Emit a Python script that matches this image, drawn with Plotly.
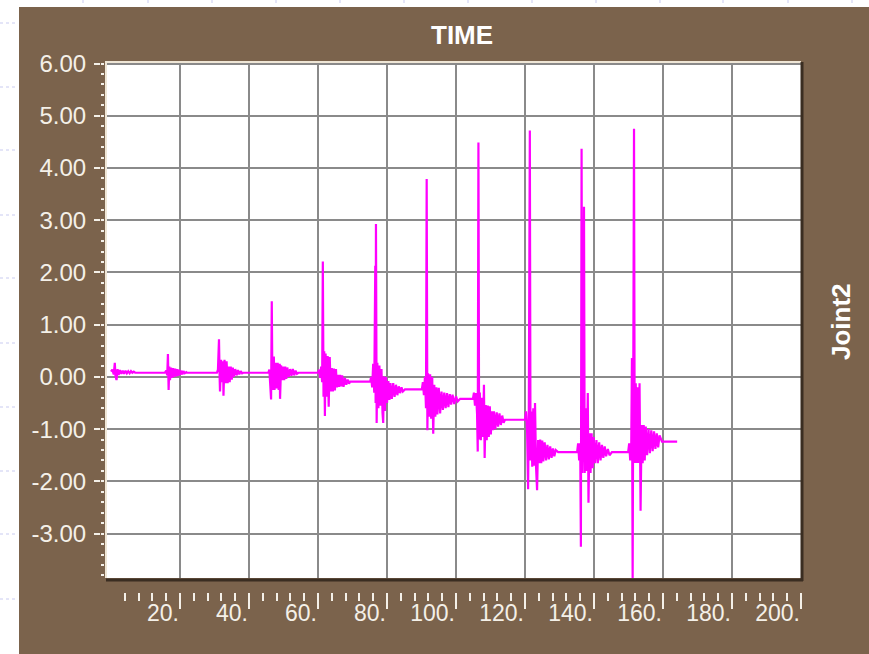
import plotly.graph_objects as go

# ---------------- data ----------------
time_s = [
    0.0, 0.4, 0.8, 1.1, 1.3, 1.6, 1.9, 2.2, 2.6, 3.0, 3.4, 3.8, 4.2, 4.6, 5.0, 5.4, 5.8, 6.2, 6.6, 7.0,
    15.6, 16.0, 16.3, 16.5, 16.7, 16.9, 17.1, 17.4, 17.7, 18.0, 18.3, 18.6, 18.9, 19.2, 19.5, 19.8, 20.1, 20.4, 20.7, 21.0, 21.4, 21.8, 22.0,
    30.7, 31.0, 31.3, 31.5, 31.6, 31.9, 32.2, 32.5, 32.6, 32.9, 33.2, 33.5, 33.8, 34.1, 34.4, 34.7, 35.0, 35.3, 35.6, 36.0, 36.4, 36.8, 37.2, 37.6, 38.0, 38.3,
    45.6, 45.9, 46.2, 46.4, 46.6, 46.8, 47.0, 47.2, 47.4, 47.7, 48.0, 48.3, 48.6, 48.9, 49.0, 49.3, 49.6, 49.9, 50.2, 50.5, 50.8, 51.1, 51.5, 51.9, 52.3, 52.7, 53.1, 53.5, 53.9, 54.3,
    60.0, 60.3, 60.6, 60.9, 61.2, 61.4, 61.6, 61.8, 62.0, 62.2, 62.5, 62.8, 63.1, 63.4, 63.7, 64.0, 64.3, 64.6, 64.9, 65.2, 65.5, 65.8, 66.1, 66.4, 66.7, 67.0, 67.4, 67.8, 68.2, 68.6, 69.0, 69.3,
    75.1, 75.4, 75.7, 76.0, 76.3, 76.6, 76.7, 76.8, 77.0, 77.2, 77.5, 77.8, 78.1, 78.4, 78.7, 78.9, 79.1, 79.4, 79.7, 80.0, 80.4, 80.7, 81.0, 81.4, 81.8, 82.2, 82.6, 83.0, 83.4, 83.8, 84.2, 84.6, 85.2,
    90.1, 90.4, 90.7, 91.0, 91.3, 91.5, 91.7, 91.9, 92.2, 92.5, 92.8, 93.1, 93.4, 93.7, 94.0, 94.3, 94.6, 95.0, 95.4, 95.8, 96.2, 96.6, 97.0, 97.4, 97.8, 98.2, 98.6, 99.0, 99.5, 100.0, 100.5, 101.2,
    104.9, 105.2, 105.5, 105.8, 106.1, 106.3, 106.5, 106.7, 106.9, 107.2, 107.5, 107.8, 108.1, 108.3, 108.6, 108.9, 109.2, 109.5, 109.8, 110.1, 110.4, 110.7, 111.0, 111.4, 111.8, 112.2, 112.6, 113.0, 113.4, 113.8, 114.2,
    120.0, 120.3, 120.6, 120.9, 121.1, 121.4, 121.6, 121.8, 122.1, 122.4, 122.7, 122.9, 123.2, 123.5, 123.8, 124.1, 124.4, 124.7, 125.0, 125.3, 125.7, 126.1, 126.5, 126.9, 127.3, 127.7, 128.1, 128.5, 128.9, 129.6,
    135.1, 135.4, 135.7, 136.0, 136.2, 136.4, 136.6, 136.9, 137.1, 137.3, 137.6, 137.9, 138.2, 138.4, 138.7, 139.0, 139.3, 139.6, 139.9, 140.3, 140.7, 141.1, 141.5, 141.9, 142.3, 142.7, 143.1, 143.5, 144.0, 144.5, 145.2,
    149.9, 150.2, 150.5, 150.8, 151.0, 151.2, 151.4, 151.6, 151.8, 152.1, 152.4, 152.7, 153.0, 153.2, 153.5, 153.8, 154.1, 154.4, 154.7, 155.0, 155.4, 155.8, 156.2, 156.6, 157.0, 157.4, 157.8, 158.2, 158.6, 159.0, 159.7, 164.1,
]

joint2 = [
    0.10, 0.14, 0.05, 0.27, 0.02, -0.06, 0.15, 0.04, 0.13, 0.06, 0.12, 0.06, 0.12, 0.07, 0.11, 0.07, 0.11, 0.08, 0.10, 0.08,
    0.08, 0.12, 0.03, 0.44, -0.25, 0.20, -0.06, 0.18, -0.02, 0.17, 0.00, 0.16, 0.01, 0.15, 0.02, 0.14, 0.04, 0.12, 0.05, 0.11, 0.07, 0.09, 0.08,
    0.08, 0.14, 0.72, -0.05, -0.28, 0.33, -0.10, 0.30, -0.36, 0.33, -0.12, 0.30, -0.12, 0.20, -0.10, 0.20, -0.05, 0.18, 0.00, 0.15, 0.03, 0.13, 0.05, 0.11, 0.07, 0.08,
    0.08, 0.14, -0.10, -0.43, 1.45, -0.25, 0.27, 0.39, -0.25, 0.27, -0.22, 0.27, -0.25, 0.25, -0.42, 0.22, -0.06, 0.20, -0.06, 0.20, -0.04, 0.18, 0.00, 0.15, 0.02, 0.15, 0.03, 0.12, 0.06, 0.08,
    0.08, 0.14, -0.02, 0.20, -0.10, 2.21, -0.38, 0.49, -0.75, 0.45, -0.38, 0.40, -0.57, 0.38, -0.28, 0.17, -0.28, 0.16, -0.26, 0.15, -0.20, 0.04, -0.19, 0.04, -0.18, 0.03, -0.19, -0.02, -0.15, -0.05, -0.13, -0.09,
    -0.09, 0.00, -0.20, 0.25, -0.30, 2.13, -0.50, 2.93, -0.88, 0.27, -0.60, 0.22, -0.55, 0.15, -0.69, -0.88, 0.01, -0.65, 0.00, -0.50, -0.08, -0.44, -0.12, -0.42, -0.12, -0.38, -0.15, -0.35, -0.18, -0.31, -0.20, -0.28, -0.24,
    -0.24, -0.10, -0.35, 0.00, -0.60, 3.79, -1.02, 0.07, -0.76, 0.05, -0.80, 0.00, -1.09, -0.15, -0.76, -0.20, -0.72, -0.21, -0.70, -0.28, -0.63, -0.30, -0.60, -0.31, -0.58, -0.33, -0.53, -0.34, -0.52, -0.37, -0.47, -0.42,
    -0.42, -0.30, -0.55, -0.31, -0.70, -1.43, 4.49, -1.20, -0.30, -1.21, -0.40, -1.15, -0.15, -1.55, -0.54, -1.21, -0.55, -1.15, -0.56, -1.10, -0.66, -1.02, -0.66, -1.00, -0.68, -0.95, -0.70, -0.92, -0.74, -0.88, -0.82,
    -0.82, -0.66, -1.00, -2.15, -0.70, 4.72, -1.60, -0.66, -1.72, -0.60, -1.70, -0.50, -1.72, -2.17, -1.21, -1.65, -1.20, -1.65, -1.22, -1.62, -1.25, -1.60, -1.30, -1.58, -1.33, -1.55, -1.37, -1.52, -1.40, -1.44,
    -1.44, -1.27, -1.60, -1.27, -3.25, 4.37, -1.84, -0.50, 3.26, -1.84, -0.60, -1.80, -0.31, -2.41, -1.08, -1.84, -1.08, -1.75, -1.15, -1.65, -1.21, -1.65, -1.25, -1.60, -1.30, -1.55, -1.33, -1.52, -1.38, -1.50, -1.44,
    -1.44, -1.27, -1.60, -1.27, 0.36, -3.90, 0.30, 4.75, -1.65, -0.12, -1.65, -0.20, -1.65, -0.12, -2.56, -0.92, -1.65, -0.92, -1.60, -0.95, -1.50, -1.00, -1.46, -1.02, -1.42, -1.04, -1.38, -1.08, -1.35, -1.12, -1.24, -1.24,
]

x_tick_vals = [20, 40, 60, 80, 100, 120, 140, 160, 180, 200]
x_tick_text = ["20.", "40.", "60.", "80.", "100.", "120.", "140.", "160.", "180.", "200."]
x_minor_vals = [4, 8, 12, 16, 24, 28, 32, 36, 44, 48, 52, 56, 64, 68, 72, 76, 84, 88, 92, 96,
                104, 108, 112, 116, 124, 128, 132, 136, 144, 148, 152, 156, 164, 168, 172, 176,
                184, 188, 192, 196]
y_tick_vals = [-3, -2, -1, 0, 1, 2, 3, 4, 5, 6]
y_tick_text = ["-3.00", "-2.00", "-1.00", "0.00", "1.00", "2.00", "3.00", "4.00", "5.00", "6.00"]

# ---------------- layout geometry (pixels) ----------------
W, H = 869, 654
ML, MR, MT, MB = 100, 68, 62, 62
PW = W - ML - MR
PH = H - MT - MB


def px(x):
    return (x - ML) / PW


def py(y):
    return (H - MB - y) / PH


BROWN = "#7B634C"
GRID = "#8A8A8A"
TICK = "#F4F0E8"
FONT = "Liberation Sans, Arial, sans-serif"

fig = go.Figure()
fig.add_trace(go.Scatter(
    x=time_s, y=joint2, mode="lines",
    line=dict(color="#FF00FF", width=2.2),
    hoverinfo="skip", showlegend=False,
))

fig.update_layout(
    width=W, height=H,
    margin=dict(l=ML, r=MR, t=MT, b=MB, pad=0, autoexpand=False),
    paper_bgcolor=BROWN, plot_bgcolor="white", showlegend=False,
    xaxis=dict(
        domain=[px(106), 1.0], range=[-1.45, 200.0],
        anchor="free", position=0,
        showline=False, zeroline=False,
        showgrid=True, gridcolor=GRID, gridwidth=2,
        tickmode="array", tickvals=x_tick_vals, ticktext=x_tick_text,
        ticks="outside", ticklen=16, tickwidth=2, tickcolor=TICK,
        ticklabelposition="outside left",
        tickfont=dict(family=FONT, size=23, color=TICK),
        minor=dict(tickmode="array", tickvals=x_minor_vals, ticks="outside",
                   ticklen=8, tickwidth=2, tickcolor=TICK, showgrid=False),
    ),
    yaxis=dict(
        domain=[py(578), 1.0], range=[-3.85, 6.03],
        anchor="free", position=0,
        showline=False, zeroline=False,
        showgrid=True, gridcolor=GRID, gridwidth=2,
        tickmode="array", tickvals=y_tick_vals, ticktext=y_tick_text,
        ticks="outside", ticklen=6, tickwidth=2, tickcolor=TICK,
        ticklabelstandoff=3,
        tickfont=dict(family=FONT, size=24, color=TICK),
        minor=dict(dtick=0.2, tick0=0, ticks="inside", ticklen=3, tickwidth=2,
                   tickcolor=TICK, showgrid=False),
    ),
)

shapes = []
# white page strips outside the brown frame
shapes.append(dict(type="rect", xref="paper", yref="paper", x0=px(0), x1=px(19), y0=py(0), y1=py(H),
                   fillcolor="white", line=dict(width=0), layer="below"))
shapes.append(dict(type="rect", xref="paper", yref="paper", x0=px(0), x1=px(W), y0=py(0), y1=py(7),
                   fillcolor="white", line=dict(width=0), layer="below"))
# faint page dashes
for yy in [23, 87, 150, 215, 278, 343, 407, 471, 534, 599]:
    shapes.append(dict(type="line", xref="paper", yref="paper", x0=px(0), x1=px(18), y0=py(yy), y1=py(yy),
                       line=dict(color="#C9CBF0", width=1, dash="dot"), layer="above"))
for xx in [83, 148, 212, 276, 340, 404, 468, 532, 596, 660, 723, 788, 852]:
    shapes.append(dict(type="line", xref="paper", yref="paper", x0=px(xx), x1=px(xx), y0=py(0), y1=py(6),
                       line=dict(color="#C9CBF0", width=1, dash="dot"), layer="above"))
# 3D frame of the plot window
shapes.append(dict(type="line", xref="paper", yref="paper", x0=px(105), x1=px(801), y0=py(62), y1=py(62),
                   line=dict(color="#EFE6D6", width=2), layer="above"))
shapes.append(dict(type="line", xref="paper", yref="paper", x0=px(106), x1=px(106), y0=py(62), y1=py(578),
                   line=dict(color="#EFE6D6", width=2), layer="above"))
shapes.append(dict(type="line", xref="paper", yref="paper", x0=px(802), x1=px(802), y0=py(62), y1=py(581),
                   line=dict(color="#3A2D21", width=3), layer="above"))
shapes.append(dict(type="line", xref="paper", yref="paper", x0=px(106), x1=px(803), y0=py(580), y1=py(580),
                   line=dict(color="#3A2D21", width=3), layer="above"))
fig.update_layout(shapes=shapes)

fig.add_annotation(text="<b>TIME</b>", xref="paper", yref="paper", x=px(462), y=py(35),
                   showarrow=False, xanchor="center", yanchor="middle",
                   font=dict(family=FONT, size=26, color="white"))
fig.add_annotation(text="<b>Joint2</b>", xref="paper", yref="paper", x=px(841), y=py(322),
                   showarrow=False, xanchor="center", yanchor="middle", textangle=-90,
                   font=dict(family=FONT, size=26, color="white"))

fig.write_html("out.html")
